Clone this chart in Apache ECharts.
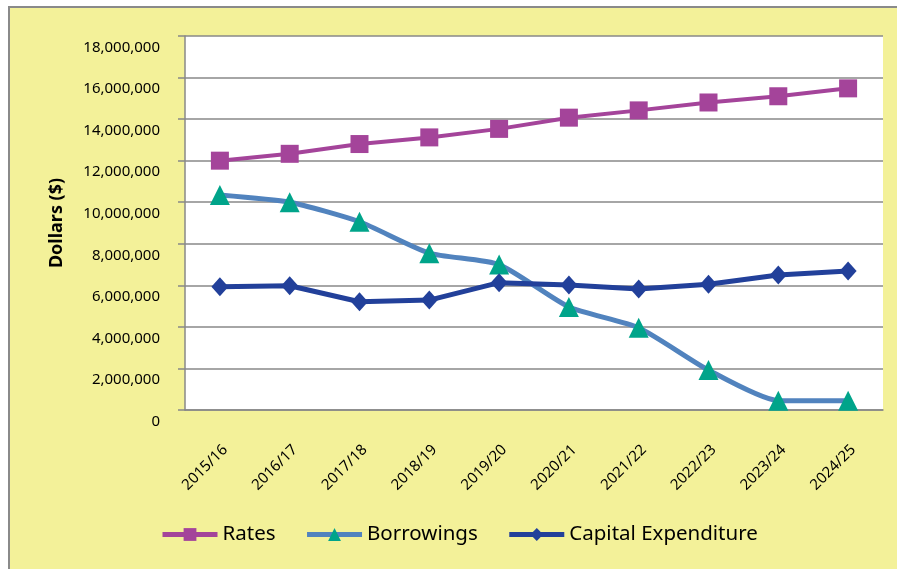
<!DOCTYPE html>
<html>
<head>
<meta charset="utf-8">
<title>Rates, Borrowings and Capital Expenditure</title>
<script src="https://cdn.jsdelivr.net/npm/echarts@6/dist/echarts.min.js"></script>
<style>
    html, body { margin: 0; padding: 0; background: #fff; overflow: hidden; }
    .frame {
        position: absolute; left: 8px; top: 6px; right: -10px; bottom: -10px;
        border: 2px solid #8a8a8a;
        background: #f3f199;
    }
    #chart { position: absolute; left: 0; top: 0; width: 897px; height: 569px; }
</style>
</head>
<body>
<div class="frame"></div>
<div id="chart"></div>
<script type="text/javascript">
// categories and series (dollars)
var years = ['2015/16', '2016/17', '2017/18', '2018/19', '2019/20', '2020/21', '2021/22', '2022/23', '2023/24', '2024/25'];
var rates = [12000000, 12330000, 12800000, 13120000, 13530000, 14070000, 14420000, 14800000, 15100000, 15480000];
var borrowings = [10350000, 10000000, 9060000, 7550000, 7000000, 4960000, 3960000, 1920000, 450000, 450000];
var capex = [5930000, 5980000, 5210000, 5290000, 6130000, 6020000, 5820000, 6050000, 6500000, 6690000];
var yTicks = { min: 0, max: 18000000, step: 2000000 };

var font = '"Noto Sans", "DejaVu Sans", sans-serif';
var chart = echarts.init(document.getElementById('chart'));

chart.setOption({
    backgroundColor: 'transparent',
    textStyle: { fontFamily: font, color: '#000' },
    animation: false,
    grid: {
        left: 185, top: 36, right: 14, bottom: 159,
        show: true, backgroundColor: '#fff', borderWidth: 0
    },
    legend: {
        left: 155, top: 519,
        itemWidth: 55, itemHeight: 16, itemGap: 29,
        lineStyle: { width: 5 },
        textStyle: { fontFamily: font, fontSize: 20.5, color: '#000' },
        data: ['Rates', 'Borrowings', 'Capital Expenditure']
    },
    xAxis: {
        type: 'category',
        data: years,
        boundaryGap: true,
        axisLine: { lineStyle: { color: '#888', width: 1.5 } },
        axisTick: { length: 7, lineStyle: { color: '#888', width: 1.5 } },
        axisLabel: {
            rotate: 45, margin: 32, verticalAlign: 'top',
            fontSize: 15, color: '#000', fontFamily: font, interval: 0
        }
    },
    yAxis: {
        type: 'value',
        min: yTicks.min, max: yTicks.max, interval: yTicks.step,
        name: 'Dollars ($)',
        nameLocation: 'middle', nameGap: 119,
        nameTextStyle: { fontFamily: font, fontSize: 18, fontWeight: 'bold', color: '#000' },
        axisLine: { show: true, lineStyle: { color: '#888', width: 1.5 } },
        axisTick: { show: true, length: 7, lineStyle: { color: '#888', width: 1.5 } },
        splitLine: { lineStyle: { color: '#888', width: 1.5 } },
        axisLabel: {
            margin: 25, fontSize: 15, lineHeight: 23, color: '#000', fontFamily: font,
            verticalAlign: 'top',
            formatter: function (v) { return v.toLocaleString('en-US'); }
        }
    },
    series: [
        {
            name: 'Rates', type: 'line', data: rates,
            symbol: 'rect', symbolSize: 18,
            lineStyle: { color: '#a4449a', width: 4 },
            itemStyle: { color: '#a4449a' }
        },
        {
            name: 'Borrowings', type: 'line', data: borrowings,
            smooth: 0.2,
            symbol: 'triangle', symbolSize: 20,
            lineStyle: { color: '#5183be', width: 5 },
            itemStyle: { color: '#00a48a' }
        },
        {
            name: 'Capital Expenditure', type: 'line', data: capex,
            symbol: 'diamond', symbolSize: [17, 19],
            lineStyle: { color: '#22409a', width: 5 },
            itemStyle: { color: '#22409a' }
        }
    ]
});
</script>
</body>
</html>
